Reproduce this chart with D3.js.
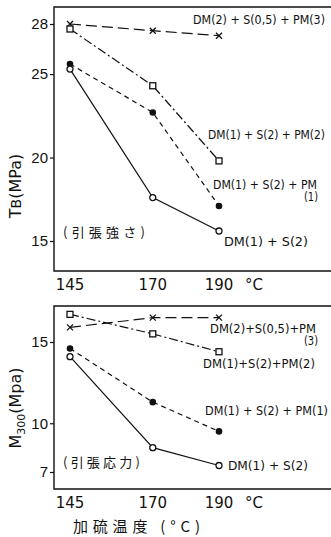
<!DOCTYPE html>
<html>
<head>
<meta charset="utf-8">
<script src="https://cdn.jsdelivr.net/npm/d3@7/dist/d3.min.js"></script>
<style>
  body { margin: 0; background: #fff; }
  svg { display: block; font-family: "DejaVu Sans", sans-serif; }
</style>
</head>
<body>
<div id="chart"></div>
<script>
// vulcanization temperature (°C)
const temps = [145, 170, 190];
const xTicks = ['145', '170', '190'];

// tensile strength TB (MPa)
const tbX    = [28.0, 27.6, 27.3];
const tbSq   = [27.7, 24.3, 19.8];
const tbFill = [25.6, 22.7, 17.1];
const tbOpen = [25.3, 17.6, 15.6];
const tbTicks = [15, 20, 25, 28];

// modulus M300 (MPa)
const mX    = [15.9, 16.5, 16.5];
const mSq   = [16.7, 15.5, 14.4];
const mFill = [14.6, 11.3, 9.5];
const mOpen = [14.1, 8.5, 7.4];
const mTicks = [7, 10, 15];

const width = 331, height = 537;
const svg = d3.select('#chart').append('svg')
  .attr('width', width).attr('height', height);

const x = d3.scaleLinear().domain([145, 190]).range([70, 219]);

const styles = [
  { dash: '11,5', marker: 'x' },
  { dash: '9,3,2,3', marker: 'square' },
  { dash: '5,4', marker: 'dot' },
  { dash: null, marker: 'circle' }
];

function drawPanel(top, bottom, y, ticks, series) {
  const g = svg.append('g');
  // frame: top, left, bottom (no right side)
  g.append('path')
    .attr('d', `M${width},${top}H54V${bottom}H${width}`)
    .attr('fill', 'none').attr('stroke', '#111').attr('stroke-width', 1.4);

  const yAxis = d3.axisLeft(y).tickValues(ticks).tickSize(4).tickFormat(d3.format('d'));
  const ya = g.append('g').attr('transform', 'translate(54,0)').call(yAxis);
  ya.select('.domain').remove();
  ya.selectAll('line').attr('stroke', '#111').attr('stroke-width', 1.2);
  ya.selectAll('text').attr('font-size', 15).attr('fill', '#111').attr('x', -6);

  g.selectAll('.xt').data(temps).enter().append('text')
    .attr('x', d => x(d)).attr('y', bottom + 19)
    .attr('text-anchor', 'middle').attr('font-size', 15).attr('fill', '#111')
    .text((d, i) => xTicks[i]);
  g.append('text').attr('x', 245).attr('y', bottom + 19)
    .attr('font-size', 15).attr('fill', '#111').text('°C');

  const line = d3.line().x((d, i) => x(temps[i])).y(d => y(d));

  series.forEach((vals, k) => {
    const st = styles[k];
    g.append('path').datum(vals)
      .attr('d', line).attr('fill', 'none')
      .attr('stroke', '#111').attr('stroke-width', 1.2)
      .attr('stroke-dasharray', st.dash);
    const pts = g.selectAll('.p' + k).data(vals).enter().append('g')
      .attr('transform', (d, i) => `translate(${x(temps[i])},${y(d)})`);
    if (st.marker === 'x') {
      pts.append('path').attr('d', 'M-3,-3L3,3M-3,3L3,-3')
        .attr('stroke', '#111').attr('stroke-width', 1.3);
    } else if (st.marker === 'square') {
      pts.append('rect').attr('x', -3).attr('y', -3).attr('width', 6).attr('height', 6)
        .attr('fill', '#fff').attr('stroke', '#111').attr('stroke-width', 1.3);
    } else if (st.marker === 'dot') {
      pts.append('circle').attr('r', 3.3).attr('fill', '#111');
    } else {
      pts.append('circle').attr('r', 3).attr('fill', '#fff')
        .attr('stroke', '#111').attr('stroke-width', 1.3);
    }
  });
  return g;
}

function label(g, txt, x0, y0, len) {
  g.append('text').attr('x', x0).attr('y', y0)
    .attr('font-size', 11.5).attr('fill', '#111')
    .attr('font-family', '"DejaVu Sans Condensed", "Liberation Sans Narrow", sans-serif')
    .attr('textLength', len).attr('lengthAdjust', 'spacingAndGlyphs')
    .text(txt);
}

// top panel: tensile strength
const yTop = d3.scaleLinear().domain([15, 28]).range([241, 24]);
const gTop = drawPanel(7, 271, yTop, tbTicks, [tbX, tbSq, tbFill, tbOpen]);
label(gTop, 'DM(2) + S(0,5) + PM(3)', 193, 24, 132);
label(gTop, 'DM(1) + S(2) + PM(2)', 208, 139, 117);
label(gTop, 'DM(1) + S(2) + PM', 213, 189, 104);
label(gTop, '(1)', 304, 201, 14);
label(gTop, 'DM(1) + S(2)', 224, 246, 84);
gTop.append('text').attr('x', 63).attr('y', 237).attr('font-size', 13)
  .attr('font-family', '"Noto Sans CJK JP", sans-serif').attr('fill', '#111')
  .attr('textLength', 82).text('(引張強さ)');
gTop.append('text')
  .attr('transform', 'translate(21,186) rotate(-90)')
  .attr('text-anchor', 'middle').attr('font-size', 16).attr('fill', '#111')
  .html('T<tspan font-size="14">B</tspan>(MPa)');

// bottom panel: modulus
const yBot = d3.scaleLinear().domain([7, 15]).range([472, 342]);
const gBot = drawPanel(306, 489, yBot, mTicks, [mX, mSq, mFill, mOpen]);
label(gBot, 'DM(2)+S(0,5)+PM', 210, 333, 106);
label(gBot, '(3)', 304, 345, 14);
label(gBot, 'DM(1)+S(2)+PM(2)', 203, 368, 112);
label(gBot, 'DM(1) + S(2) + PM(1)', 205, 415, 123);
label(gBot, 'DM(1) + S(2)', 228, 470, 80);
gBot.append('text').attr('x', 63).attr('y', 467).attr('font-size', 13)
  .attr('font-family', '"Noto Sans CJK JP", sans-serif').attr('fill', '#111')
  .attr('textLength', 77).text('(引張応力)');
gBot.append('text')
  .attr('transform', 'translate(21,408) rotate(-90)')
  .attr('text-anchor', 'middle').attr('font-size', 16).attr('fill', '#111')
  .html('M<tspan font-size="11" dy="4">300</tspan><tspan dy="-4">(Mpa)</tspan>');

svg.append('text').attr('x', 73).attr('y', 532)
  .attr('font-size', 15).attr('font-family', '"Noto Sans CJK JP", sans-serif')
  .attr('fill', '#111').attr('textLength', 127).text('加硫温度 (°C)');
</script>
</body>
</html>
